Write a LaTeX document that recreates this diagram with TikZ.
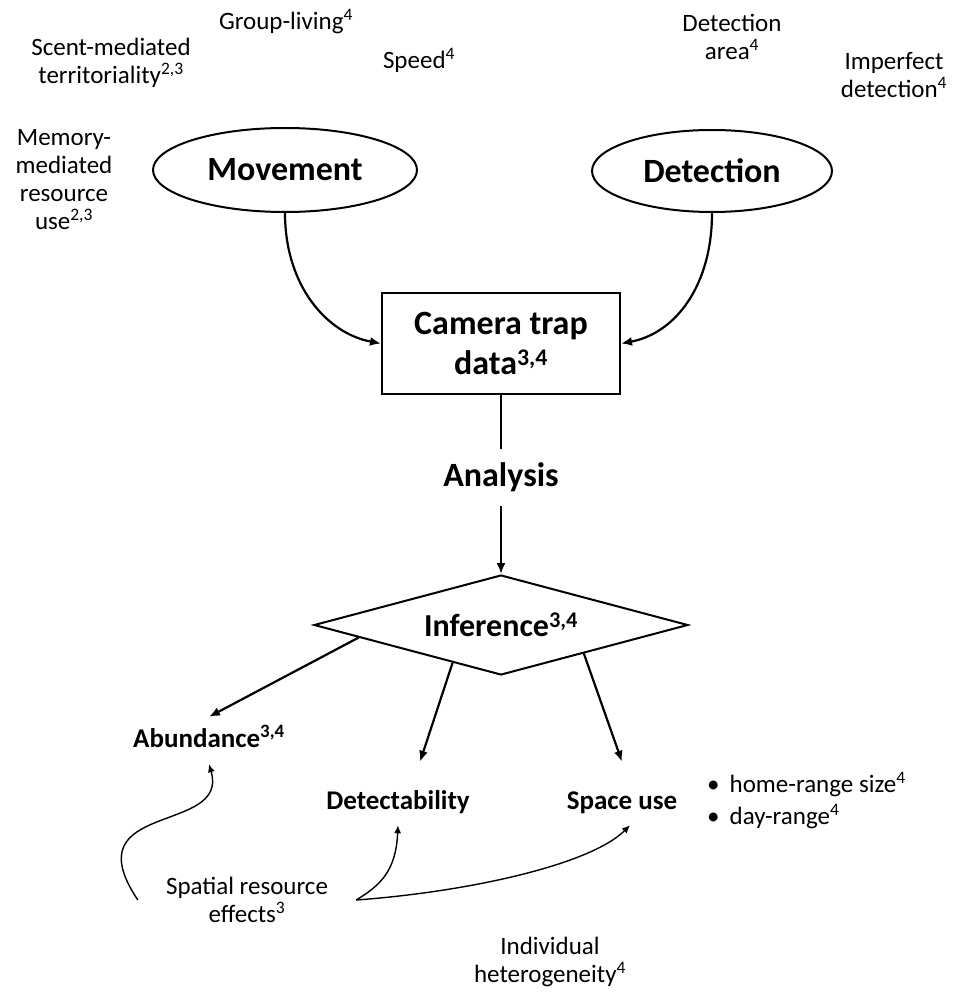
\documentclass[tikz,border=0pt]{standalone}
\usepackage{fontspec}
\setmainfont{Carlito}
\usepackage{tikz}
\usetikzlibrary{arrows.meta,shapes.geometric}
\tikzset{note/.style={font=\fontsize{25}{28}\selectfont,align=center,inner sep=2pt},lbl/.style={font=\fontsize{27}{32}\selectfont\bfseries,inner sep=0pt,text height=19pt,text depth=5pt},arr/.style={-{Latex[length=11pt,width=9pt]},line width=2.2pt},thinarr/.style={-{Latex[length=8pt,width=7pt]},line width=1.4pt}}

\begin{document}
\begin{tikzpicture}[x=1pt,y=-1pt,
oval/.style={ellipse,draw,line width=2pt,inner sep=0pt,font=\fontsize{34}{40}\selectfont\bfseries},
box/.style={rectangle,draw,line width=2pt,inner sep=0pt,align=center,font=\fontsize{34}{40}\selectfont\bfseries}]
\useasboundingbox (0,0) rectangle (952,992);
% processes behind the data
\node[note] (grp) at (286,22) {Group-living\textsuperscript{4}};
\node[note] (sct) at (111,63) {Scent-mediated\\territoriality\textsuperscript{2,3}};
\node[note] (spd) at (419,60) {Speed\textsuperscript{4}};
\node[note] (mem) at (64,180) {Memory-\\mediated\\resource\\use\textsuperscript{2,3}};
\node[note] (dar) at (732,37) {Detection\\area\textsuperscript{4}};
\node[note] (imp) at (894,75) {Imperfect\\detection\textsuperscript{4}};
\node[oval,minimum width=264pt,minimum height=84pt] (mov) at (285,170) {Movement};
\node[oval,minimum width=240pt,minimum height=82pt] (det) at (712,171) {Detection};
\node[box,minimum width=238pt,minimum height=101pt] (cam) at (501,343.5) {Camera trap\\data\textsuperscript{3,4}};
\node[box,draw=none,minimum height=55pt] (ana) at (501,477.5) {Analysis};
\node[diamond,draw,line width=2pt,aspect=3.74,minimum width=374pt,minimum height=100pt,inner sep=0pt,font=\fontsize{32}{38}\selectfont\bfseries] (inf) at (501,625) {Inference\textsuperscript{3,4}};
% outputs
\node[lbl] (abd) at (209,740) {Abundance\textsuperscript{3,4}};
\node[lbl] (dtb) at (398,802) {Detectability};
\node[lbl] (spu) at (622,802) {Space use};
\node[note,align=left,anchor=west,font=\fontsize{25}{32}\selectfont] (lst) at (705,801) {\textbullet\hspace{10pt}home-range size\textsuperscript{4}\\\textbullet\hspace{10pt}day-range\textsuperscript{4}};
\node[note,inner xsep=28pt] (spr) at (247,900) {Spatial resource\\effects\textsuperscript{3}};
\node[note] (ind) at (550,962) {Individual\\heterogeneity\textsuperscript{4}};
% connectors
\draw[arr] (mov.south) .. controls +(0,73) and +(-54,-10) .. (cam.west);
\draw[arr] (det.south) .. controls +(0,73) and +(54,-10) .. (cam.east);
\draw[line width=2.2pt] (cam.south) -- (ana.north);
\draw[arr] (ana.south) -- (inf.north);
\draw[arr] (inf.185) -- ([yshift=11pt]abd.north);
\draw[arr] (inf.218) -- ([xshift=22pt,yshift=28pt]dtb.north);
\draw[arr] (inf.341) -- ([yshift=28pt]spu.north);
\draw[thinarr] (spr.west) .. controls +(-67,-100) and +(21,71) .. ([yshift=-12pt]abd.south);
\draw[thinarr] (spr.east) .. controls +(25,-15) and +(-2,45) .. ([yshift=-11pt]dtb.south);
\draw[thinarr] (spr.east) .. controls +(110,-8) and +(-40,40) .. ([xshift=8pt,yshift=-11pt]spu.south);
\end{tikzpicture}
\end{document}
